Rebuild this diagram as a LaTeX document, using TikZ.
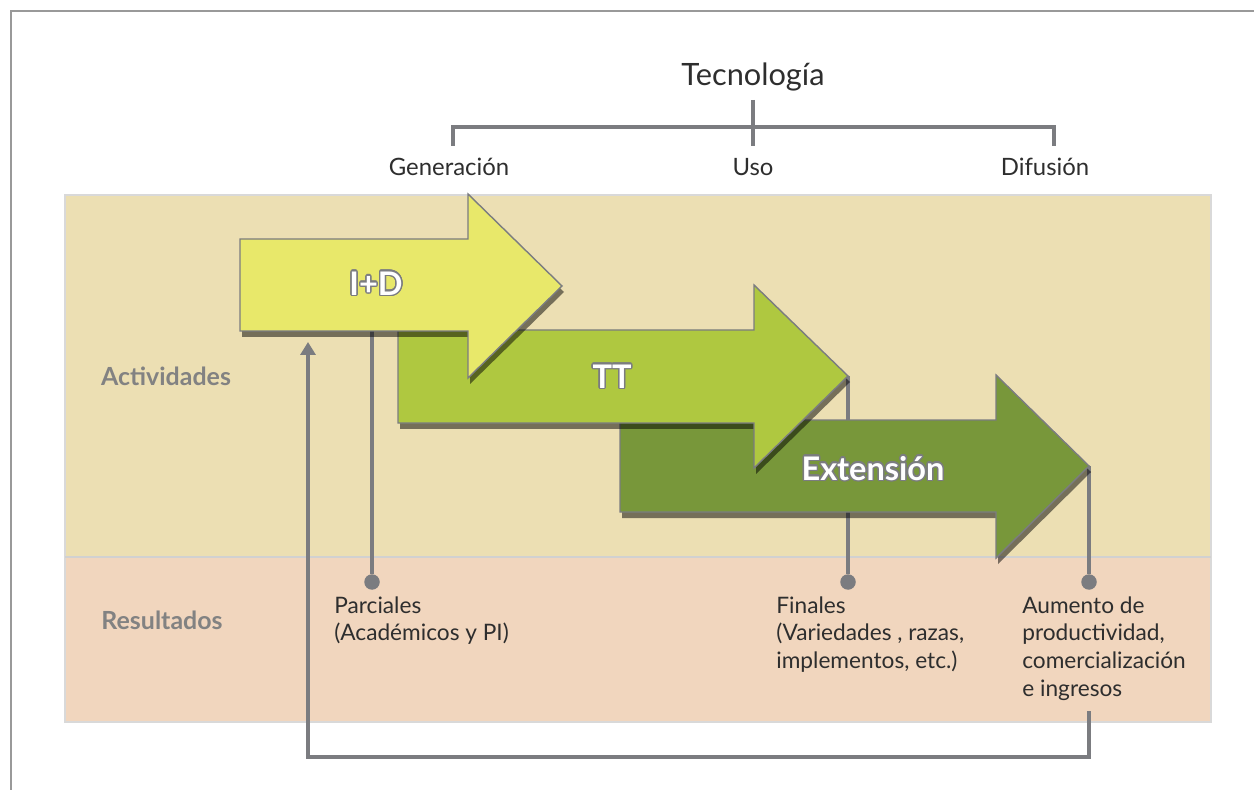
\documentclass[tikz,border=0pt]{standalone}
\usepackage{fontspec}
\setmainfont{Lato}
\usepackage{contour}
\contourlength{0.8pt}
\usetikzlibrary{arrows.meta,shadows}

\definecolor{fondoAct}{HTML}{ECDFB3}
\definecolor{fondoRes}{HTML}{F1D6BE}
\definecolor{amarillo}{HTML}{E8E86A}
\definecolor{verdeClaro}{HTML}{AFC840}
\definecolor{verdeOscuro}{HTML}{78973A}
\definecolor{linea}{HTML}{7B7C80}
\definecolor{rotulo}{HTML}{828282}
\definecolor{texto}{HTML}{2E2E2E}

\tikzset{
  marco/.style={draw=black!40, line width=1.1pt},
  franja/.style={draw=black!15, line width=0.8pt},
  separa/.style={draw=black!18, line width=1pt},
  conector/.style={draw=linea, line width=2.1pt},
  punto/.style={circle, fill=linea, inner sep=0pt, minimum size=0.31cm},
  flecha/.style={draw=linea, line width=0.8pt, line join=miter,
    drop shadow={shadow xshift=0.04cm, shadow yshift=-0.12cm, opacity=0.5, fill=black}},
  rotflecha/.style={text=white, font=\fontsize{18.5}{21}\selectfont\bfseries},
  tit/.style={text=texto, font=\fontsize{17.5}{20}\selectfont},
  etapa/.style={text=texto, font=\fontsize{13.6}{16}\selectfont},
  fila/.style={text=rotulo, font=\fontsize{14.2}{16}\selectfont\bfseries},
  res/.style={text=texto, align=left, inner sep=0pt, anchor=north west,
    font=\fontsize{12.9}{15.9}\selectfont}
}

\begin{document}
\begin{tikzpicture}[x=0.02cm, y=-0.02cm]
\useasboundingbox (0,0) rectangle (1254,790);
% marco y fondos
\draw[marco] (11,790) -- (11,11) -- (1254,11);
\fill[fondoAct] (65,195) rectangle (1211,557);
\fill[fondoRes] (65,557) rectangle (1211,722);
\draw[franja] (65,195) rectangle (1211,722);
\draw[separa] (65,557) -- (1211,557);

% encabezado
\node[tit] (tec) at (753,77) {Tecnología};
\node[etapa] (gen) at (449,167) {Generación};
\node[etapa] (uso) at (753,167) {Uso};
\node[etapa] (dif) at (1045,167) {Difusión};
\coordinate (llaveI) at (453,146);
\coordinate (llaveC) at (753,100);
\coordinate (llaveD) at (1054,146);
\draw[conector] (llaveI) -- ++(0,-19) -| (llaveD);
\draw[conector] (llaveC) -- (uso.north |- llaveI);

% filas
\node[fila] (act) at (166,376) {Actividades};
\node[fila] (res) at (162,620) {Resultados};

% resultados
\node[punto] (pP) at (372,582) {};
\node[punto] (pF) at (848,582) {};
\node[punto] (pA) at (1089,582) {};
\node[res] (parc) at (334,596) {Parciales\\(Académicos y PI)};
\node[res] (fin) at (776,596) {Finales\\(Variedades , razas,\\implementos, etc.)};
\node[res] (aum) at (1022,596) {Aumento de\\productividad,\\comercialización\\e ingresos};

% puntos de salida de las flechas
\coordinate (idBase) at (372,331);
\coordinate (ttPunta) at (848,376);
\coordinate (exPunta) at (1089,466);
\coordinate (retIni) at (1089,711);
\coordinate (retFin) at (308,342);
\draw[conector] (idBase) -- (pP);
\draw[conector] (ttPunta) -- (pF);
\draw[conector] (exPunta) -- (pA);
\draw[conector, -{Triangle[length=0.26cm, width=0.3cm]}]
  (retIni) -- ++(0,46) -| (retFin);

% flechas (de atras hacia adelante)
\draw[flecha, fill=verdeOscuro] (620,420) -- (996,420) -- (996,375) -- (1089,466)
  -- (996,558) -- (996,512) -- (620,512) -- cycle;
\draw[flecha, fill=verdeClaro] (398,330) -- (754,330) -- (754,285) -- (848,376)
  -- (754,468) -- (754,423) -- (398,423) -- cycle;
\draw[flecha, fill=amarillo] (240,239) -- (468,239) -- (468,194) -- (562,286)
  -- (468,378) -- (468,331) -- (240,331) -- cycle;

\node[rotflecha] (id) at (376,284) {\contour{linea}{I+D}};
\node[rotflecha] (tt) at (612,377) {\contour{linea}{TT}};
\node[rotflecha] (ext) at (873,469) {\contour{linea}{Extensión}};
\end{tikzpicture}
\end{document}
